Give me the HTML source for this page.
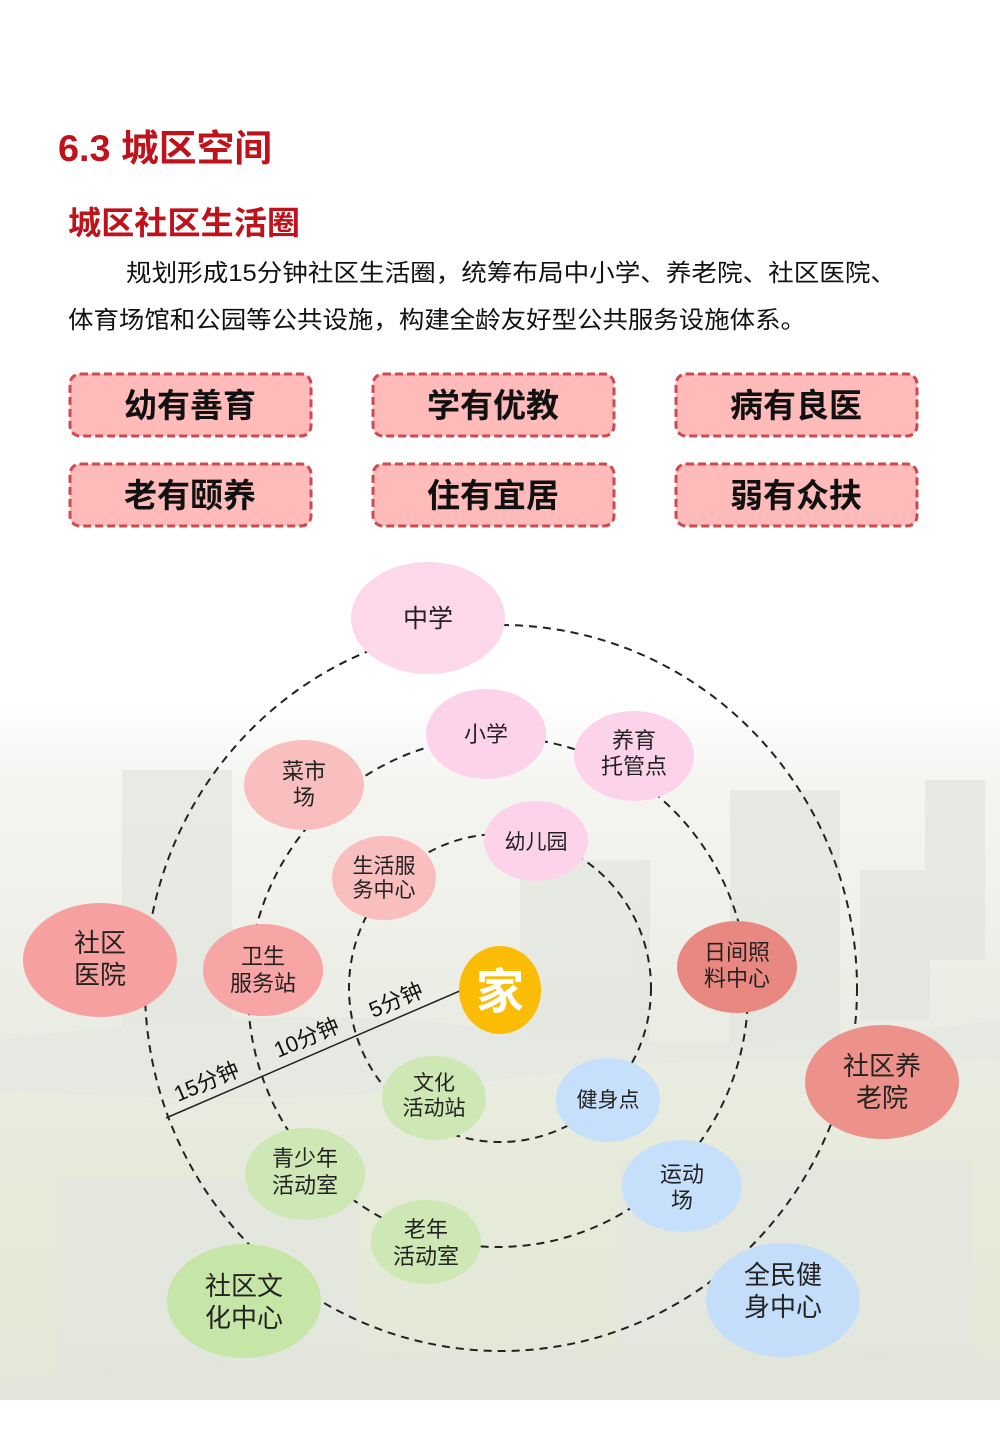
<!DOCTYPE html>
<html><head><meta charset="utf-8"><style>
html,body{margin:0;padding:0;background:#fff}
svg{display:block}
text{font-family:"Liberation Sans","Noto Sans CJK SC",sans-serif}
</style></head><body>
<svg width="1000" height="1444" viewBox="0 0 1000 1444" xmlns="http://www.w3.org/2000/svg">
<defs>
<linearGradient id="bg" x1="0" y1="0" x2="0" y2="1">
<stop offset="0" stop-color="#ffffff"/>
<stop offset="0.12" stop-color="#f4f5f1"/>
<stop offset="0.45" stop-color="#ebede4"/>
<stop offset="0.7" stop-color="#e6ead9"/>
<stop offset="1" stop-color="#e4e8d8"/>
</linearGradient>
</defs>
<rect x="0" y="700" width="1000" height="700" fill="url(#bg)"/>
<g fill="#e2e5df" opacity="0.7">
<rect x="122" y="770" width="110" height="280"/>
<rect x="520" y="860" width="130" height="190"/>
<rect x="730" y="790" width="110" height="260"/>
<rect x="925" y="780" width="60" height="180"/>
<rect x="860" y="870" width="70" height="150"/>
<rect x="620" y="1160" width="350" height="200"/>
<rect x="60" y="1180" width="300" height="200"/>
</g>
<path d="M0 1040 Q300 1000 500 1030 T1000 1020 L1000 1060 Q700 1050 500 1080 T0 1090 Z" fill="#e6e8e2"/>
<path d="M0 1380 Q500 1330 1000 1360 L1000 1400 L0 1400 Z" fill="#e2e5da"/>

<text x="58" y="161" font-size="37" font-weight="bold" fill="#c0121b" textLength="214" lengthAdjust="spacingAndGlyphs">6.3 城区空间</text>
<text x="68" y="234" font-size="32" font-weight="bold" fill="#c0121b" textLength="232" lengthAdjust="spacingAndGlyphs">城区社区生活圈</text>
<text x="126" y="281" font-size="24" fill="#111" textLength="770" lengthAdjust="spacingAndGlyphs">规划形成15分钟社区生活圈，统筹布局中小学、养老院、社区医院、</text>
<text x="68" y="328" font-size="24" fill="#111" textLength="738" lengthAdjust="spacingAndGlyphs">体育场馆和公园等公共设施，构建全龄友好型公共服务设施体系。</text>

<g fill="#ffbaba" stroke="#cc4a52" stroke-width="3" stroke-dasharray="8,4">
<rect x="70" y="374" width="241" height="62" rx="10"/>
<rect x="373" y="374" width="241" height="62" rx="10"/>
<rect x="676" y="374" width="241" height="62" rx="10"/>
<rect x="70" y="464" width="241" height="62" rx="10"/>
<rect x="373" y="464" width="241" height="62" rx="10"/>
<rect x="676" y="464" width="241" height="62" rx="10"/>
</g>
<g font-size="33" font-weight="bold" fill="#111" text-anchor="middle">
<text x="190" y="417">幼有善育</text>
<text x="493" y="417">学有优教</text>
<text x="796" y="417">病有良医</text>
<text x="190" y="507">老有颐养</text>
<text x="493" y="507">住有宜居</text>
<text x="796" y="507">弱有众扶</text>
</g>

<g fill="none" stroke="#222" stroke-width="2" stroke-dasharray="8,6">
<ellipse cx="501" cy="988" rx="356" ry="363"/>
<ellipse cx="498" cy="992" rx="250" ry="255"/>
<ellipse cx="500" cy="988" rx="151" ry="154"/>
</g>
<line x1="166" y1="1118" x2="462" y2="990" stroke="#222" stroke-width="1.5"/>
<g font-size="22" fill="#111">
<text transform="translate(178,1102) rotate(-23)">15分钟</text>
<text transform="translate(278,1058) rotate(-23)">10分钟</text>
<text transform="translate(373,1018) rotate(-23)">5分钟</text>
</g>

<g>
<ellipse cx="428" cy="618" rx="77" ry="56" fill="#fdd8ea"/>
<ellipse cx="486" cy="734" rx="60" ry="45" fill="#fcd3ea"/>
<ellipse cx="634" cy="756" rx="60" ry="45" fill="#fcd3ea"/>
<ellipse cx="304" cy="785" rx="60" ry="45" fill="#f9bfbf"/>
<ellipse cx="536" cy="841" rx="52" ry="40" fill="#fcd3ea"/>
<ellipse cx="384" cy="878" rx="52" ry="42" fill="#f9bfbf"/>
<ellipse cx="100" cy="960" rx="77" ry="57" fill="#f7a0a0"/>
<ellipse cx="263" cy="970" rx="60" ry="46" fill="#f7a5a5"/>
<ellipse cx="500" cy="990" rx="41" ry="44" fill="#fbbc05"/>
<ellipse cx="737" cy="967" rx="60" ry="46" fill="#e98880"/>
<ellipse cx="882" cy="1082" rx="77" ry="57" fill="#ec928a"/>
<ellipse cx="434" cy="1098" rx="52" ry="42" fill="#cde8b4"/>
<ellipse cx="608" cy="1100" rx="52" ry="42" fill="#c6e0fb"/>
<ellipse cx="305" cy="1174" rx="60" ry="46" fill="#cde8b4"/>
<ellipse cx="682" cy="1186" rx="60" ry="46" fill="#c6e0fb"/>
<ellipse cx="426" cy="1242" rx="55" ry="42" fill="#cde8b4"/>
<ellipse cx="244" cy="1301" rx="77" ry="57" fill="#c6e6a8"/>
<ellipse cx="783" cy="1300" rx="77" ry="57" fill="#c4defa"/>
</g>
<g fill="#222" text-anchor="middle" font-size="22">
<text x="428" y="627" font-size="25">中学</text>
<text x="486" y="742">小学</text>
<text x="634" y="748">养育</text><text x="634" y="774">托管点</text>
<text x="304" y="779">菜市</text><text x="304" y="805">场</text>
<text x="536" y="849" font-size="21">幼儿园</text>
<text x="384" y="873" font-size="21">生活服</text><text x="384" y="897" font-size="21">务中心</text>
<text x="100" y="952" font-size="26">社区</text><text x="100" y="984" font-size="26">医院</text>
<text x="263" y="964">卫生</text><text x="263" y="991">服务站</text>
<text x="737" y="960">日间照</text><text x="737" y="986">料中心</text>
<text x="882" y="1075" font-size="26">社区养</text><text x="882" y="1107" font-size="26">老院</text>
<text x="434" y="1090" font-size="21">文化</text><text x="434" y="1115" font-size="21">活动站</text>
<text x="608" y="1107" font-size="21">健身点</text>
<text x="305" y="1166">青少年</text><text x="305" y="1193">活动室</text>
<text x="682" y="1182">运动</text><text x="682" y="1208">场</text>
<text x="426" y="1237">老年</text><text x="426" y="1264">活动室</text>
<text x="244" y="1295" font-size="26">社区文</text><text x="244" y="1327" font-size="26">化中心</text>
<text x="783" y="1284" font-size="26">全民健</text><text x="783" y="1316" font-size="26">身中心</text>
<text x="500" y="1008" font-size="48" font-weight="bold" fill="#fff">家</text>
</g>
</svg>
</body></html>
